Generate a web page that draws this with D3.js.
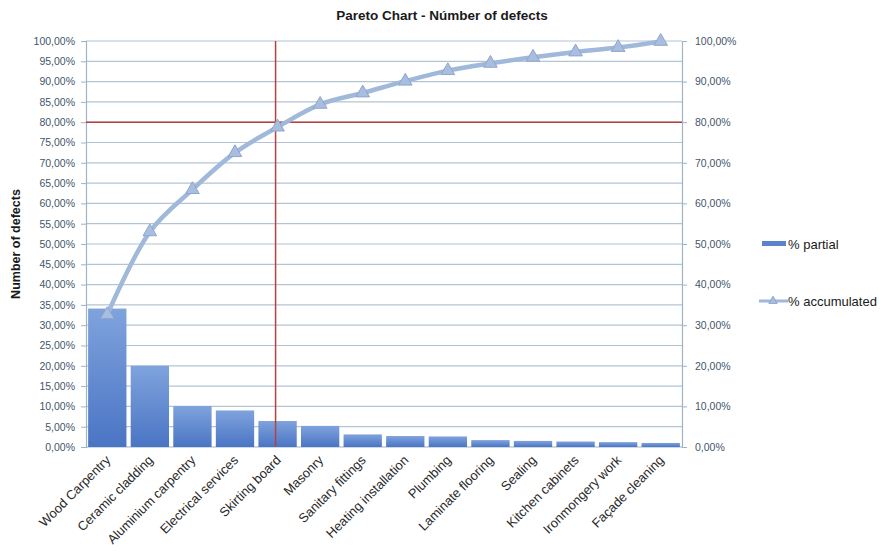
<!DOCTYPE html>
<html>
<head>
<meta charset="utf-8">
<script src="https://cdn.jsdelivr.net/npm/d3@7/dist/d3.min.js"></script>
<style>
  html, body { margin: 0; padding: 0; background: #fff; }
  svg { display: block; font-family: "Liberation Sans", Arial, sans-serif; }
</style>
</head>
<body>
<svg id="chart" width="884" height="555"></svg>
<script>
// Defect categories, ordered by share of defects
const categories = [
  "Wood Carpentry", "Ceramic cladding", "Aluminium carpentry", "Electrical services",
  "Skirting board", "Masonry", "Sanitary fittings", "Heating installation",
  "Plumbing", "Laminate flooring", "Sealing", "Kitchen cabinets",
  "Ironmongery work", "Façade cleaning"
];
// Share of each category (%)
const partial = [34.1, 20.0, 10.1, 9.0, 6.4, 5.2, 3.1, 2.7, 2.6, 1.7, 1.5, 1.35, 1.2, 1.0];
// Running total (%)
const accumulated = [32.6, 53.0, 63.4, 72.5, 78.8, 84.4, 87.2, 90.1, 92.7, 94.5, 96.0, 97.3, 98.4, 99.9];
// Left axis ticks every 5 %, right axis every 10 %
const leftTicks = d3.range(0, 101, 5);
const rightTicks = d3.range(0, 101, 10);
// 80/20 reference lines
const thresholdPct = 80;
const thresholdCategory = "Skirting board";

const svg = d3.select("#chart");
const m = { left: 86, right: 682, top: 41, bottom: 447 };

const x = d3.scaleBand().domain(categories).range([m.left, m.right]).paddingInner(0.1).paddingOuter(0.05);
const y = d3.scaleLinear().domain([0, 100]).range([m.bottom, m.top]);
const fmt = v => d3.format(".2f")(v).replace(".", ",") + "%";

const grid = "#b3c5d3";
const axisCol = "#9fb3c4";
const labelCol = "#3f566b";

// bar gradient
const defs = svg.append("defs");
const grad = defs.append("linearGradient").attr("id", "barGrad")
  .attr("x1", 0).attr("y1", 0).attr("x2", 0).attr("y2", 1);
grad.append("stop").attr("offset", "0%").attr("stop-color", "#7fa3dd");
grad.append("stop").attr("offset", "100%").attr("stop-color", "#4a75c4");

// title
svg.append("text").attr("x", 442).attr("y", 20).attr("text-anchor", "middle")
  .attr("font-size", 13.5).attr("font-weight", "bold").attr("fill", "#1a1a1a")
  .text("Pareto Chart - Númber of defects");

// horizontal gridlines
svg.append("g").selectAll("line").data(leftTicks.filter(d => d > 0)).join("line")
  .attr("x1", m.left).attr("x2", m.right)
  .attr("y1", d => y(d)).attr("y2", d => y(d))
  .attr("stroke", grid).attr("stroke-width", 1.2);

// left axis
const gl = svg.append("g").attr("transform", `translate(${m.left},0)`)
  .call(d3.axisLeft(y).tickValues(leftTicks).tickFormat(fmt).tickSize(5).tickPadding(6));
gl.select(".domain").attr("stroke", axisCol).attr("stroke-width", 1.2);
gl.selectAll(".tick line").attr("stroke", axisCol);
gl.selectAll("text").attr("font-size", 10.5).attr("fill", labelCol)
  .attr("font-family", "'Liberation Sans', Arial, sans-serif");

// right axis
const gr = svg.append("g").attr("transform", `translate(${m.right},0)`)
  .call(d3.axisRight(y).tickValues(rightTicks).tickFormat(fmt).tickSize(5).tickPadding(8));
gr.select(".domain").attr("stroke", axisCol).attr("stroke-width", 1.2);
gr.selectAll(".tick line").attr("stroke", axisCol);
gr.selectAll("text").attr("font-size", 10.5).attr("fill", labelCol)
  .attr("font-family", "'Liberation Sans', Arial, sans-serif");

// bottom baseline
svg.append("line").attr("x1", m.left).attr("x2", m.right)
  .attr("y1", m.bottom).attr("y2", m.bottom).attr("stroke", axisCol).attr("stroke-width", 1.2);

// bars
svg.append("g").selectAll("rect").data(categories).join("rect")
  .attr("x", d => x(d)).attr("width", x.bandwidth())
  .attr("y", (d, i) => y(partial[i])).attr("height", (d, i) => y(0) - y(partial[i]))
  .attr("fill", "url(#barGrad)");

// 80 % reference lines
const red = "#b8413f";
svg.append("line").attr("x1", m.left).attr("x2", m.right)
  .attr("y1", y(thresholdPct)).attr("y2", y(thresholdPct))
  .attr("stroke", red).attr("stroke-width", 1.5);
const vx = x(thresholdCategory) + x.bandwidth() / 2 - 2;
svg.append("line").attr("x1", vx).attr("x2", vx)
  .attr("y1", m.top).attr("y2", m.bottom)
  .attr("stroke", red).attr("stroke-width", 1.5);

// cumulative line
const cx = d => x(d) + x.bandwidth() / 2;
const lineCol = "#a0b8da";
const line = d3.line().x((d, i) => cx(categories[i])).y(d => y(d)).curve(d3.curveCatmullRom.alpha(0.5));
svg.append("path").datum(accumulated).attr("d", line)
  .attr("fill", "none").attr("stroke", lineCol).attr("stroke-width", 4.5).attr("stroke-linejoin", "round");

const tri = d3.symbol().type(d3.symbolTriangle).size(80);
svg.append("g").selectAll("path").data(accumulated).join("path")
  .attr("d", tri)
  .attr("transform", (d, i) => `translate(${cx(categories[i])},${y(d)})`)
  .attr("fill", "#a9bedf").attr("stroke", "#8ea6cc").attr("stroke-width", 1);

// category labels
svg.append("g").selectAll("text").data(categories).join("text")
  .attr("transform", d => `translate(${cx(d) + 4},${m.bottom + 14}) rotate(-45)`)
  .attr("text-anchor", "end").attr("font-size", 13).attr("fill", "#2a2a2a")
  .text(d => d);

// y-axis title
svg.append("text").attr("transform", `translate(20,${(m.top + m.bottom) / 2}) rotate(-90)`)
  .attr("text-anchor", "middle").attr("font-size", 12.5).attr("font-weight", "bold").attr("fill", "#1a1a1a")
  .text("Number of defects");

// legend
const lg = svg.append("g");
lg.append("rect").attr("x", 762).attr("y", 241).attr("width", 24).attr("height", 5).attr("fill", "#5b84cb");
lg.append("text").attr("x", 788).attr("y", 249).attr("font-size", 13).attr("fill", "#1a1a1a").text("% partial");
lg.append("line").attr("x1", 759).attr("x2", 788).attr("y1", 301).attr("y2", 301)
  .attr("stroke", lineCol).attr("stroke-width", 3);
lg.append("path").attr("d", d3.symbol().type(d3.symbolTriangle).size(30))
  .attr("transform", "translate(773,301)").attr("fill", "#a9bedf").attr("stroke", "#8ea6cc");
lg.append("text").attr("x", 788).attr("y", 306).attr("font-size", 13).attr("fill", "#1a1a1a").text("% accumulated");
</script>
</body>
</html>
